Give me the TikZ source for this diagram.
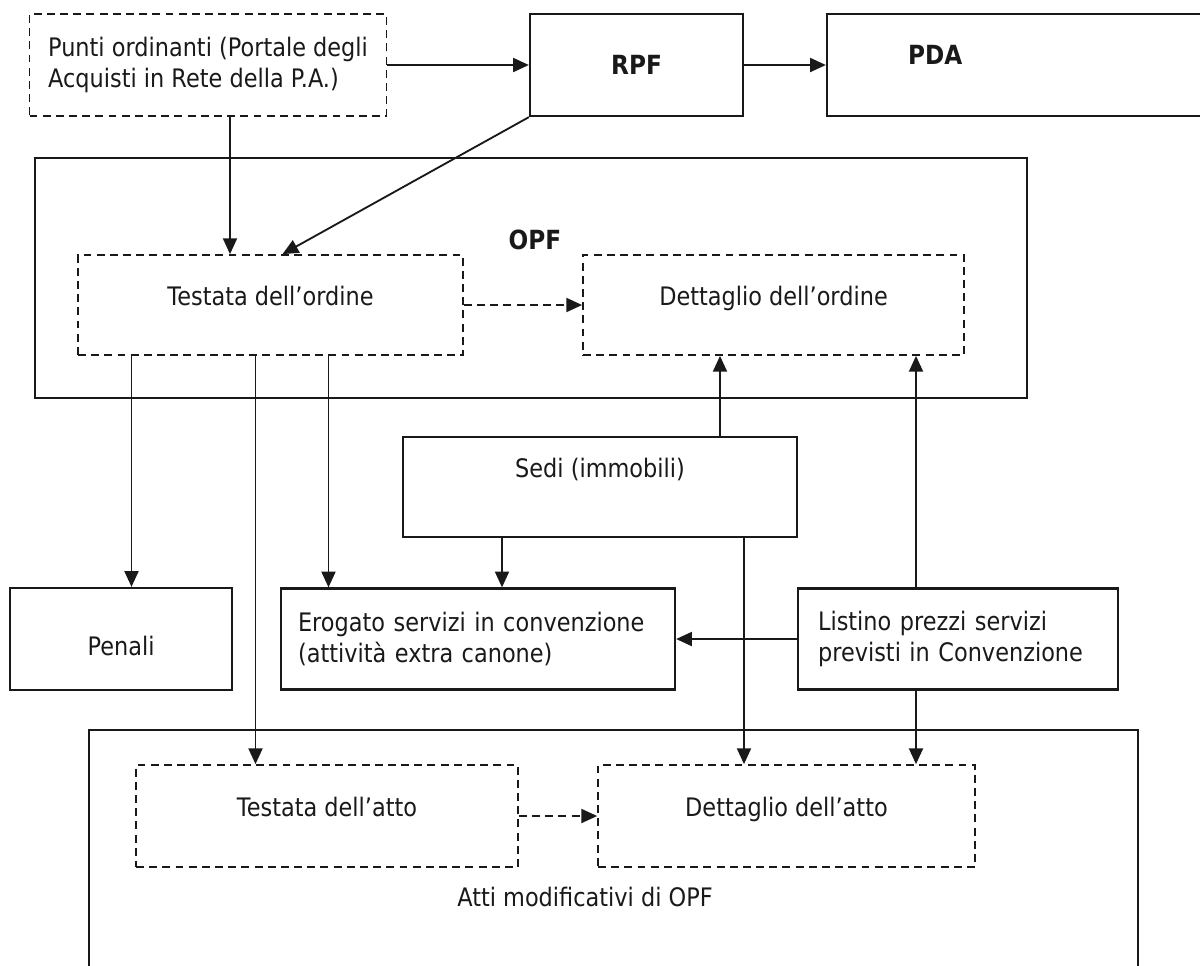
\documentclass[tikz,border=0pt]{standalone}
\usepackage[svgnames]{xcolor}
\usepackage{fontspec}
\setmainfont{DejaVu Sans}[FakeStretch=0.88]
\usepackage{tikz}
\usetikzlibrary{positioning,arrows.meta}

% color of lines and text
\colorlet{colLine}{Black!90}

\tikzset{
  % solid box of an archive
  entity/.style={draw=colLine, line width=1.3pt, rectangle, inner sep=0pt,
    text=colLine, font=\fontsize{14.5pt}{18pt}\selectfont},
  % dashed box of a part of an archive
  part/.style={entity, line width=1pt, dash pattern=on 4.5pt off 3pt},
  % bold title of a box
  title/.style={font=\fontsize{15pt}{18pt}\selectfont\bfseries},
  % plain text label
  lbl/.style={text=colLine, inner sep=0pt, font=\fontsize{14.5pt}{18pt}\selectfont},
  % size of a box, in pixels of the page
  boxsize/.style 2 args={minimum width=#1*0.02cm, minimum height=#2*0.02cm},
  % move the text of a box up
  lift/.style={text height=10pt, text depth=#1},
  % solid link
  link/.style={draw=colLine, line width=1.05pt, -{Triangle[length=9pt, width=8pt]}},
  % dashed link
  dlink/.style={link, dash pattern=on 4.5pt off 3pt},
}

\begin{document}
\begin{tikzpicture}[x=0.02cm, y=-0.02cm]

  % size of the page
  \useasboundingbox (0,0) rectangle (1200,965);
  \clip (0,0) rectangle (1200,965);

  % top row
  \node[part, boxsize={357}{102}, align=left]
    (punti) at (208,65) {Punti ordinanti (Portale degli\\Acquisti in Rete della P.A.)};
  \node[entity, title, boxsize={213}{102}] (rpf) at (636.5,65) {RPF};
  \node[entity, title, boxsize={400}{102}, text width=4.76cm, align=left,
    inner xsep=1.55cm, lift=11pt] (pda) at (1027,65) {PDA};

  % orders
  \node[entity, boxsize={992}{240}] (opf) at (531,278) {};
  \node[lbl, title] (opflbl) at (535,240) {OPF};
  \node[part, boxsize={385}{100}, lift=10pt] (testo) at (270.5,305) {Testata dell’ordine};
  \node[part, boxsize={381}{100}, lift=10pt] (detord) at (773.5,305) {Dettaglio dell’ordine};

  % buildings
  \node[entity, boxsize={394}{100}, lift=21pt] (sedi) at (600,487) {Sedi (immobili)};

  % middle row
  \node[entity, boxsize={222}{102}, text height=19pt, text depth=0pt] (penali) at (121,639) {Penali};
  \node[entity, boxsize={394}{101}, text width=7.2cm, align=left, inner xsep=0.34cm]
    (erogato) at (478,639) {Erogato servizi in convenzione\\(attività extra canone)};
  \node[entity, boxsize={320}{101}, text width=5.6cm, align=left, inner xsep=0.4cm]
    (listino) at (958,639) {Listino prezzi servizi\\previsti in Convenzione};

  % acts
  \node[entity, boxsize={1049}{280}] (atti) at (613.5,870) {};
  \node[lbl] (attilbl) at (585,897) {Atti modificativi di OPF};
  \node[part, boxsize={382}{102}, lift=10pt] (testatto) at (327,816) {Testata dell’atto};
  \node[part, boxsize={377}{102}, lift=10pt] (detatto) at (786.5,816) {Dettaglio dell’atto};

  % start points of the links
  \path (punti.south) ++(22,0) coordinate (p1);
  \path (testo.north) ++(12,0) coordinate (t0);
  \path (testo.south) ++(-139,0) coordinate (t1);
  \path (testo.south) ++(-15,0) coordinate (t2);
  \path (testo.south) ++(58,0) coordinate (t3);
  \path (sedi.north) ++(120,0) coordinate (s1);
  \path (sedi.south) ++(-98,0) coordinate (s2);
  \path (sedi.south) ++(144,0) coordinate (s3);
  \path (listino.north) ++(-42,0) coordinate (l1);
  \path (listino.south) ++(-42,0) coordinate (l2);

  % links of the top row
  \draw[link] (rpf.west -| punti.east) -- (rpf.west);
  \draw[link] (rpf.east) -- (pda.west);
  \draw[link] (p1) -- (p1 |- testo.north);
  \draw[link] (rpf.south west) -- (t0);

  % links of the orders
  \draw[dlink] (testo.east) -- (detord.west);
  \draw[link] (t1) -- (t1 |- penali.north);
  \draw[link] (t2) -- (t2 |- testatto.north);
  \draw[link] (t3) -- (t3 |- erogato.north);

  % links of the buildings
  \draw[link] (s1) -- (s1 |- detord.south);
  \draw[link] (s2) -- (s2 |- erogato.north);
  \draw[link] (s3) -- (s3 |- detatto.north);

  % links of the price list
  \draw[link] (l1) -- (l1 |- detord.south);
  \draw[link] (listino.west) -- (listino.west -| erogato.east);
  \draw[link] (l2) -- (l2 |- detatto.north);

  % links of the acts
  \draw[dlink] (testatto.east) -- (detatto.west);

\end{tikzpicture}
\end{document}
